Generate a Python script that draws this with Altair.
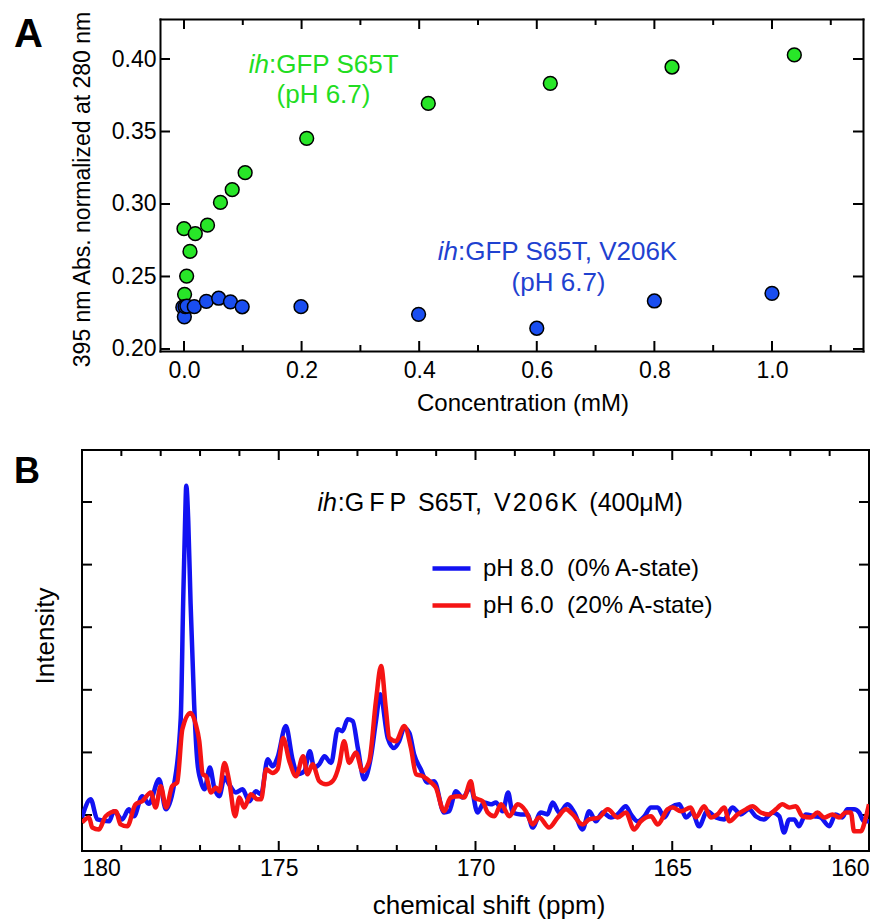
import altair as alt
import pandas as pd

FONT = "Liberation Sans"

# ---------------- Panel A data ----------------
green_conc = [0.000, 0.001, 0.0045, 0.0102, 0.0192, 0.040, 0.062, 0.082, 0.104, 0.2087, 0.4155, 0.623, 0.830, 1.038]
green_abs = [0.2830, 0.2377, 0.2503, 0.2673, 0.2795, 0.2854, 0.3011, 0.3099, 0.3216, 0.3453, 0.3694, 0.3832, 0.3945, 0.4028]
blue_conc = [-0.002, 0.0006, 0.002, 0.005, 0.0175, 0.038, 0.059, 0.079, 0.099, 0.199, 0.399, 0.600, 0.800, 1.000]
blue_abs = [0.2288, 0.2222, 0.2292, 0.2296, 0.2292, 0.2328, 0.2350, 0.2325, 0.2291, 0.2292, 0.2239, 0.2143, 0.2331, 0.2384]

a_xticks = [0.0, 0.2, 0.4, 0.6, 0.8, 1.0]
a_xminor = [0.1, 0.3, 0.5, 0.7, 0.9, 1.1]
a_yticks = [0.20, 0.25, 0.30, 0.35, 0.40]
a_xdomain = [-0.0408, 1.1548]
a_ydomain = [0.1986, 0.4276]

ann_a_text = ["ih", ":GFP S65T", "(pH 6.7)", "ih", ":GFP S65T, V206K", "(pH 6.7)"]
ann_a_x = [0.1446, 0.1446, 0.2372, 0.466, 0.466, 0.637]
ann_a_y = [0.3906, 0.3906, 0.3699, 0.2612, 0.2612, 0.2400]
ann_a_kind = ["g_it", "g_left", "g_center", "b_it", "b_left", "b_center"]

# ---------------- Panel B data ----------------
blue_trace = [
    (180.00, -0.04), (179.78, 0.25), (179.61, -0.07), (179.31, -0.10), (179.19, 0.06), (178.98, -0.07),
    (178.81, 0.09), (178.68, -0.02), (178.47, 0.30), (178.30, 0.18), (178.04, 0.57), (177.87, 0.09),
    (177.66, 0.49), (177.49, 1.55), (177.43, 3.37), (177.38, 4.70), (177.35, 5.26), (177.30, 4.70),
    (177.24, 3.37), (177.15, 1.77), (177.07, 0.86), (176.98, 0.54), (176.89, 0.41), (176.75, 0.76),
    (176.64, 0.44), (176.51, 0.30), (176.38, 0.60), (176.26, 0.49), (176.09, 0.36), (175.92, 0.41),
    (175.75, 0.22), (175.58, 0.38), (175.45, 0.33), (175.28, 0.89), (175.16, 0.78), (175.03, 0.92),
    (174.82, 1.42), (174.65, 0.89), (174.52, 0.65), (174.35, 0.70), (174.21, 1.02), (174.10, 0.76),
    (173.97, 0.81), (173.84, 0.94), (173.67, 0.83), (173.50, 1.37), (173.38, 1.34), (173.25, 1.53),
    (173.12, 1.50), (172.99, 1.07), (172.83, 0.57), (172.66, 0.92), (172.53, 1.50), (172.42, 1.93),
    (172.23, 1.23), (172.07, 1.07), (171.94, 1.18), (171.81, 1.39), (171.68, 1.31), (171.56, 0.97),
    (171.39, 0.73), (171.22, 0.52), (171.05, 0.54), (170.80, 0.04), (170.67, 0.06), (170.50, 0.38),
    (170.33, 0.28), (170.12, 0.44), (169.95, 0.04), (169.78, 0.20), (169.61, 0.17), (169.48, 0.20),
    (169.31, 0.06), (169.17, 0.36), (169.06, 0.04), (168.85, 0.01), (168.68, 0.01), (168.55, -0.20),
    (168.34, 0.04), (168.17, 0.01), (168.04, 0.20), (167.87, 0.04), (167.66, 0.17), (167.49, 0.04),
    (167.28, -0.23), (167.11, 0.06), (166.94, -0.10), (166.77, 0.04), (166.56, -0.04), (166.39, 0.01),
    (166.18, 0.14), (166.05, 0.01), (165.88, -0.10), (165.71, -0.02), (165.54, 0.12), (165.37, 0.12),
    (165.20, -0.04), (165.04, 0.12), (164.82, 0.17), (164.65, -0.04), (164.49, 0.04), (164.32, -0.18),
    (164.11, 0.06), (163.89, -0.04), (163.68, -0.07), (163.47, 0.12), (163.26, 0.01), (163.05, 0.09),
    (162.88, -0.02), (162.67, -0.07), (162.45, 0.04), (162.28, -0.02), (162.16, -0.28), (162.03, -0.07),
    (161.90, -0.07), (161.78, -0.18), (161.61, 0.01), (161.39, -0.02), (161.23, -0.04), (161.01, -0.18),
    (160.85, 0.01), (160.68, -0.04), (160.55, 0.09), (160.38, 0.09), (160.25, 0.04), (160.13, -0.10),
    (160.00, -0.10),
]
red_trace = [
    (180.00, -0.12), (179.82, -0.04), (179.74, -0.20), (179.57, -0.23), (179.40, -0.02), (179.14, 0.06),
    (179.02, -0.15), (178.85, -0.18), (178.64, 0.17), (178.47, 0.22), (178.25, 0.36), (178.13, 0.12),
    (178.00, 0.46), (177.86, 0.12), (177.71, 0.46), (177.58, 0.52), (177.45, 1.37), (177.24, 1.63),
    (177.11, 1.45), (177.02, 1.18), (176.93, 0.65), (176.85, 0.62), (176.72, 0.36), (176.60, 0.44),
    (176.51, 0.38), (176.38, 0.83), (176.26, 0.54), (176.11, -0.02), (176.00, 0.28), (175.88, 0.12),
    (175.71, 0.33), (175.54, 0.25), (175.45, 0.25), (175.32, 0.73), (175.16, 0.67), (175.03, 0.73),
    (174.89, 1.23), (174.73, 0.86), (174.56, 0.62), (174.38, 0.94), (174.27, 0.65), (174.14, 0.81),
    (173.97, 0.54), (173.80, 0.49), (173.63, 0.54), (173.46, 0.81), (173.34, 1.18), (173.21, 0.83),
    (173.04, 1.00), (172.87, 0.70), (172.70, 0.86), (172.53, 1.82), (172.40, 2.38), (172.28, 1.71),
    (172.19, 1.23), (172.02, 1.18), (171.81, 1.42), (171.64, 1.07), (171.51, 0.65), (171.34, 0.62),
    (171.13, 0.52), (171.01, 0.44), (170.80, 0.06), (170.63, 0.28), (170.41, 0.30), (170.29, 0.28),
    (170.12, 0.54), (170.03, 0.28), (169.82, 0.22), (169.69, 0.04), (169.52, -0.02), (169.35, 0.17),
    (169.14, -0.02), (168.93, 0.17), (168.72, 0.06), (168.55, -0.15), (168.38, -0.04), (168.13, -0.20),
    (167.91, -0.04), (167.70, 0.09), (167.53, 0.01), (167.28, -0.15), (167.11, -0.07), (166.86, -0.04),
    (166.64, 0.09), (166.39, -0.04), (166.18, 0.04), (165.97, -0.23), (165.80, -0.10), (165.54, -0.02),
    (165.37, -0.15), (165.12, 0.09), (164.99, 0.12), (164.78, 0.06), (164.53, 0.12), (164.40, -0.04),
    (164.19, 0.14), (164.02, -0.04), (163.85, 0.01), (163.68, 0.12), (163.55, -0.10), (163.34, 0.01),
    (163.13, 0.09), (162.96, 0.14), (162.75, 0.04), (162.54, 0.01), (162.37, 0.09), (162.20, 0.17),
    (162.03, 0.12), (161.86, 0.14), (161.69, -0.02), (161.48, -0.04), (161.31, 0.04), (161.14, -0.04),
    (160.93, 0.01), (160.76, -0.04), (160.59, 0.04), (160.46, 0.04), (160.38, -0.26), (160.21, -0.26),
    (160.08, -0.04), (160.00, 0.17),
]

series_labels = ["pH 8.0\u00a0\u00a0(0% A-state)", "pH 6.0\u00a0\u00a0(20% A-state)"]
series_colors = ["#1212f2", "#f51414"]

b_xticks = [180, 175, 170, 165, 160]
b_xminor = [v for v in range(161, 180) if v % 5 != 0]
b_yticks = [0, 1, 2, 3, 4, 5]
b_xdomain = [160, 180]
b_ydomain = [-0.575, 5.831]

ann_b_text = ["ih", ":G\u2009F\u2009P\u2009 S65T,\u2009 V\u200a2\u200a0\u200a6\u200aK\u2009 (400\u03bcM)"]
ann_b_x = [173.52, 173.50]
ann_b_y = [4.856, 4.856]
ann_b_kind = ["it", "main"]

# ---------------- helpers ----------------
GREEN = "#28e628"
GREEN_TXT = "#22dd22"
BLUE = "#1a4ef0"
BLUE_TXT = "#1f42d0"

LAB = dict(labelFont=FONT, labelColor="black")
TIT = dict(titleFont=FONT, titleColor="black", titleFontWeight="normal")
DOM = dict(domain=True, domainWidth=2, domainColor="black", domainCap="square")


def ticks_layer(values, edge, channel, length, side, xs, ys):
    """Inward-pointing tick marks drawn at tick values along one frame edge."""
    df = pd.DataFrame({"v": values, "e": [edge] * len(values)})
    if channel == "x":
        mk = alt.Chart(df).mark_tick(orient="vertical", size=length, thickness=2, color="black",
                                     opacity=1, yOffset=side * length / 2)
        return mk.encode(x=alt.X("v:Q", scale=xs(), axis=None), y=alt.Y("e:Q", scale=ys(), axis=None))
    mk = alt.Chart(df).mark_tick(orient="horizontal", size=length, thickness=2, color="black",
                                 opacity=1, xOffset=side * length / 2)
    return mk.encode(x=alt.X("e:Q", scale=xs(), axis=None), y=alt.Y("v:Q", scale=ys(), axis=None))


# ---------------- Panel A ----------------
A_W, A_H, A_X0 = 781, 332, 78


def xa():
    return alt.Scale(domain=a_xdomain, range=[A_X0, A_W], nice=False, zero=False)


def ya():
    return alt.Scale(domain=a_ydomain, nice=False, zero=False)


df_g = pd.DataFrame({"c": green_conc, "a": green_abs})
df_b = pd.DataFrame({"c": blue_conc, "a": blue_abs})
df_ann_a = pd.DataFrame({"t": ann_a_text, "x": ann_a_x, "y": ann_a_y, "k": ann_a_kind})

green_pts = alt.Chart(df_g).mark_circle(
    size=190, fill=GREEN, stroke="black", strokeWidth=1.5, opacity=1, fillOpacity=1
).encode(
    x=alt.X("c:Q", scale=xa(), axis=alt.Axis(
        orient="bottom", values=a_xticks, format=".1f", ticks=False, grid=False,
        labelFontSize=23, labelPadding=8, title="Concentration (mM)", titleFontSize=24,
        titlePadding=9, titleX=440.5, **DOM, **LAB, **TIT)),
    y=alt.Y("a:Q", scale=ya(), axis=alt.Axis(
        orient="left", values=a_yticks, format=".2f", ticks=False, grid=False, offset=-A_X0,
        labelFontSize=23, labelPadding=4, title="395 nm Abs. normalized at 280 nm",
        titleFontSize=23, titlePadding=17, titleY=A_H / 2 + 4, **DOM, **LAB, **TIT)),
)

blue_pts = alt.Chart(df_b).mark_circle(
    size=190, fill=BLUE, stroke="black", strokeWidth=1.5, opacity=1, fillOpacity=1
).encode(
    x=alt.X("c:Q", scale=xa(), axis=alt.Axis(orient="top", ticks=False, labels=False, grid=False,
                                             title=None, **DOM)),
    y=alt.Y("a:Q", scale=ya(), axis=alt.Axis(orient="right", ticks=False, labels=False, grid=False,
                                             title=None, **DOM)),
)


def ann_layer(kind, color, align, italic):
    props = dict(align=align, baseline="alphabetic", fontSize=26, font=FONT, color=color)
    if italic:
        props["fontStyle"] = "italic"
    return alt.Chart(df_ann_a).transform_filter(alt.datum.k == kind).mark_text(**props).encode(
        x=alt.X("x:Q", scale=xa(), axis=None),
        y=alt.Y("y:Q", scale=ya(), axis=None),
        text="t:N",
    )


a_layers = [
    ticks_layer(a_xticks, a_ydomain[0], "x", 10, -1, xa, ya),
    ticks_layer(a_xticks, a_ydomain[1], "x", 10, 1, xa, ya),
    ticks_layer(a_xminor, a_ydomain[0], "x", 6, -1, xa, ya),
    ticks_layer(a_xminor, a_ydomain[1], "x", 6, 1, xa, ya),
    ticks_layer(a_yticks, a_xdomain[0], "y", 10, 1, xa, ya),
    ticks_layer(a_yticks, a_xdomain[1], "y", 10, -1, xa, ya),
    green_pts,
    blue_pts,
    ann_layer("g_it", GREEN_TXT, "right", True),
    ann_layer("g_left", GREEN_TXT, "left", False),
    ann_layer("g_center", GREEN_TXT, "center", False),
    ann_layer("b_it", BLUE_TXT, "right", True),
    ann_layer("b_left", BLUE_TXT, "left", False),
    ann_layer("b_center", BLUE_TXT, "center", False),
    alt.Chart(pd.DataFrame({"t": ["A"]})).mark_text(
        align="left", baseline="alphabetic", fontSize=40, fontWeight="bold", font=FONT, color="black"
    ).encode(x=alt.value(-68), y=alt.value(28), text="t:N"),
]

panel_a = alt.layer(*a_layers).properties(width=A_W, height=A_H).resolve_axis(
    x="independent", y="independent")

# ---------------- Panel B ----------------
B_W, B_H = 787, 401


def xb():
    return alt.Scale(domain=b_xdomain, reverse=True, nice=False, zero=False)


def yb():
    return alt.Scale(domain=b_ydomain, nice=False, zero=False)


df_bl = pd.DataFrame(blue_trace, columns=["ppm", "inten"])
df_bl["s"] = series_labels[0]
df_rd = pd.DataFrame(red_trace, columns=["ppm", "inten"])
df_rd["s"] = series_labels[1]
df_ann_b = pd.DataFrame({"t": ann_b_text, "x": ann_b_x, "y": ann_b_y, "k": ann_b_kind})

legend = alt.Legend(
    orient="none", legendX=348, legendY=97, title=None, symbolType="stroke", symbolSize=1444,
    symbolStrokeWidth=4.5, labelFontSize=24, labelFont=FONT, labelColor="black", labelOffset=10,
    labelLimit=500, rowPadding=3, padding=0,
)
color = alt.Color("s:N", scale=alt.Scale(domain=series_labels, range=series_colors), legend=legend)

blue_line = alt.Chart(df_bl).mark_line(strokeWidth=4.5, interpolate="monotone", clip=True).encode(
    x=alt.X("ppm:Q", scale=xb(), axis=alt.Axis(
        orient="bottom", values=b_xticks, format="d", ticks=False, domain=False, grid=False,
        labelFontSize=23, labelPadding=6, title="chemical shift (ppm)", titleFontSize=26,
        titlePadding=12, titleX=B_W / 2 + 13, **LAB, **TIT)),
    y=alt.Y("inten:Q", scale=yb(), axis=alt.Axis(
        orient="left", ticks=False, labels=False, domain=False, grid=False, title="Intensity",
        titleFontSize=26, titlePadding=24, titleY=B_H / 2 - 15, **TIT)),
    color=color,
)
red_line = alt.Chart(df_rd).mark_line(strokeWidth=4.5, interpolate="monotone", clip=True).encode(
    x=alt.X("ppm:Q", scale=xb(), axis=None),
    y=alt.Y("inten:Q", scale=yb(), axis=None),
    color=color,
)


def ann_b_layer(kind, align, italic):
    props = dict(align=align, baseline="alphabetic", fontSize=25, font=FONT, color="black")
    if italic:
        props["fontStyle"] = "italic"
    return alt.Chart(df_ann_b).transform_filter(alt.datum.k == kind).mark_text(**props).encode(
        x=alt.X("x:Q", scale=xb(), axis=None),
        y=alt.Y("y:Q", scale=yb(), axis=None),
        text="t:N",
    )


b_label = alt.Chart(pd.DataFrame({"t": ["B"]})).mark_text(
    align="left", baseline="alphabetic", fontSize=36, fontWeight="bold", font=FONT, color="black"
).encode(x=alt.value(-68), y=alt.value(33), text="t:N")

b_layers = [
    ticks_layer(b_xticks, b_ydomain[0], "x", 10, -1, xb, yb),
    ticks_layer(b_xticks, b_ydomain[1], "x", 10, 1, xb, yb),
    ticks_layer(b_xminor, b_ydomain[0], "x", 6, -1, xb, yb),
    ticks_layer(b_xminor, b_ydomain[1], "x", 6, 1, xb, yb),
    ticks_layer(b_yticks, b_xdomain[1], "y", 10, 1, xb, yb),
    ticks_layer(b_yticks, b_xdomain[0], "y", 10, -1, xb, yb),
    blue_line,
    red_line,
    ann_b_layer("it", "right", True),
    ann_b_layer("main", "left", False),
    b_label,
]

panel_b = alt.layer(*b_layers).properties(
    width=B_W, height=B_H, view=alt.ViewBackground(stroke="black", strokeWidth=2)
).resolve_axis(x="independent", y="independent")

chart = alt.vconcat(panel_a, panel_b, spacing=34).resolve_legend(color="independent").properties(
    padding={"left": 13, "top": 10, "right": 0, "bottom": 0}
).configure(font=FONT).configure_view(stroke=None)

chart.save("out.html", embed_options={"renderer": "svg", "actions": False})
